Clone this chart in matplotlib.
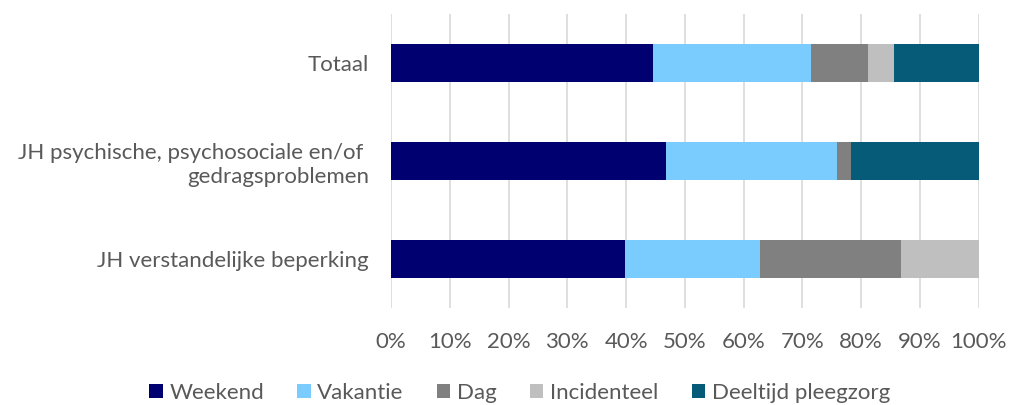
import matplotlib
matplotlib.use("Agg")
import matplotlib.pyplot as plt
import numpy as np

categories = ["JH verstandelijke beperking",
              "JH psychische, psychosociale en/of \ngedragsproblemen",
              "Totaal"]
series_names = ["Weekend", "Vakantie", "Dag", "Incidenteel", "Deeltijd pleegzorg"]
weekend = [39.8, 46.8, 44.5]
vakantie = [23.0, 29.1, 27.0]
dag = [24.0, 2.4, 9.6]
incidenteel = [13.2, 0.0, 4.4]
deeltijd = [0.0, 21.7, 14.5]
colors = ["#000070", "#7ACCFF", "#808080", "#BFBFBF", "#065C78"]

plt.rcParams['font.family'] = ['Lato', 'DejaVu Sans']
fig = plt.figure(figsize=(10.09, 4.05), dpi=100)
ax = fig.add_axes([0.3875, 0.2395, 0.5825, 0.7255])

y = np.arange(len(categories))
left = np.zeros(len(categories))
for name, vals, c in zip(series_names, [weekend, vakantie, dag, incidenteel, deeltijd], colors):
    ax.barh(y, vals, left=left, height=0.39, color=c, label=name, zorder=3)
    left += np.array(vals)

ax.set_xlim(0, 100)
ax.set_ylim(-0.5, 2.5)
ax.set_xticks(np.arange(0, 101, 10))
ax.set_xticklabels([f"{v}%" for v in range(0, 101, 10)])
ax.set_yticks(y)
ax.set_yticklabels(categories, linespacing=1.25)
ax.grid(axis='x', color='#D9D9D9', linewidth=1.2, zorder=0)
for s in ax.spines.values():
    s.set_visible(False)
ax.tick_params(axis='both', length=0, labelsize=16, colors='#595959')
ax.tick_params(axis='x', pad=17)
ax.tick_params(axis='y', pad=16)

handles, labels = ax.get_legend_handles_labels()
fig.legend(handles, labels, loc='center', bbox_to_anchor=(0.515, 0.03), ncol=5,
           frameon=False, fontsize=16, labelcolor='#595959',
           handlelength=0.6, handleheight=0.6, handletextpad=0.3, columnspacing=1.5)

fig.savefig("out.png", dpi=100)
